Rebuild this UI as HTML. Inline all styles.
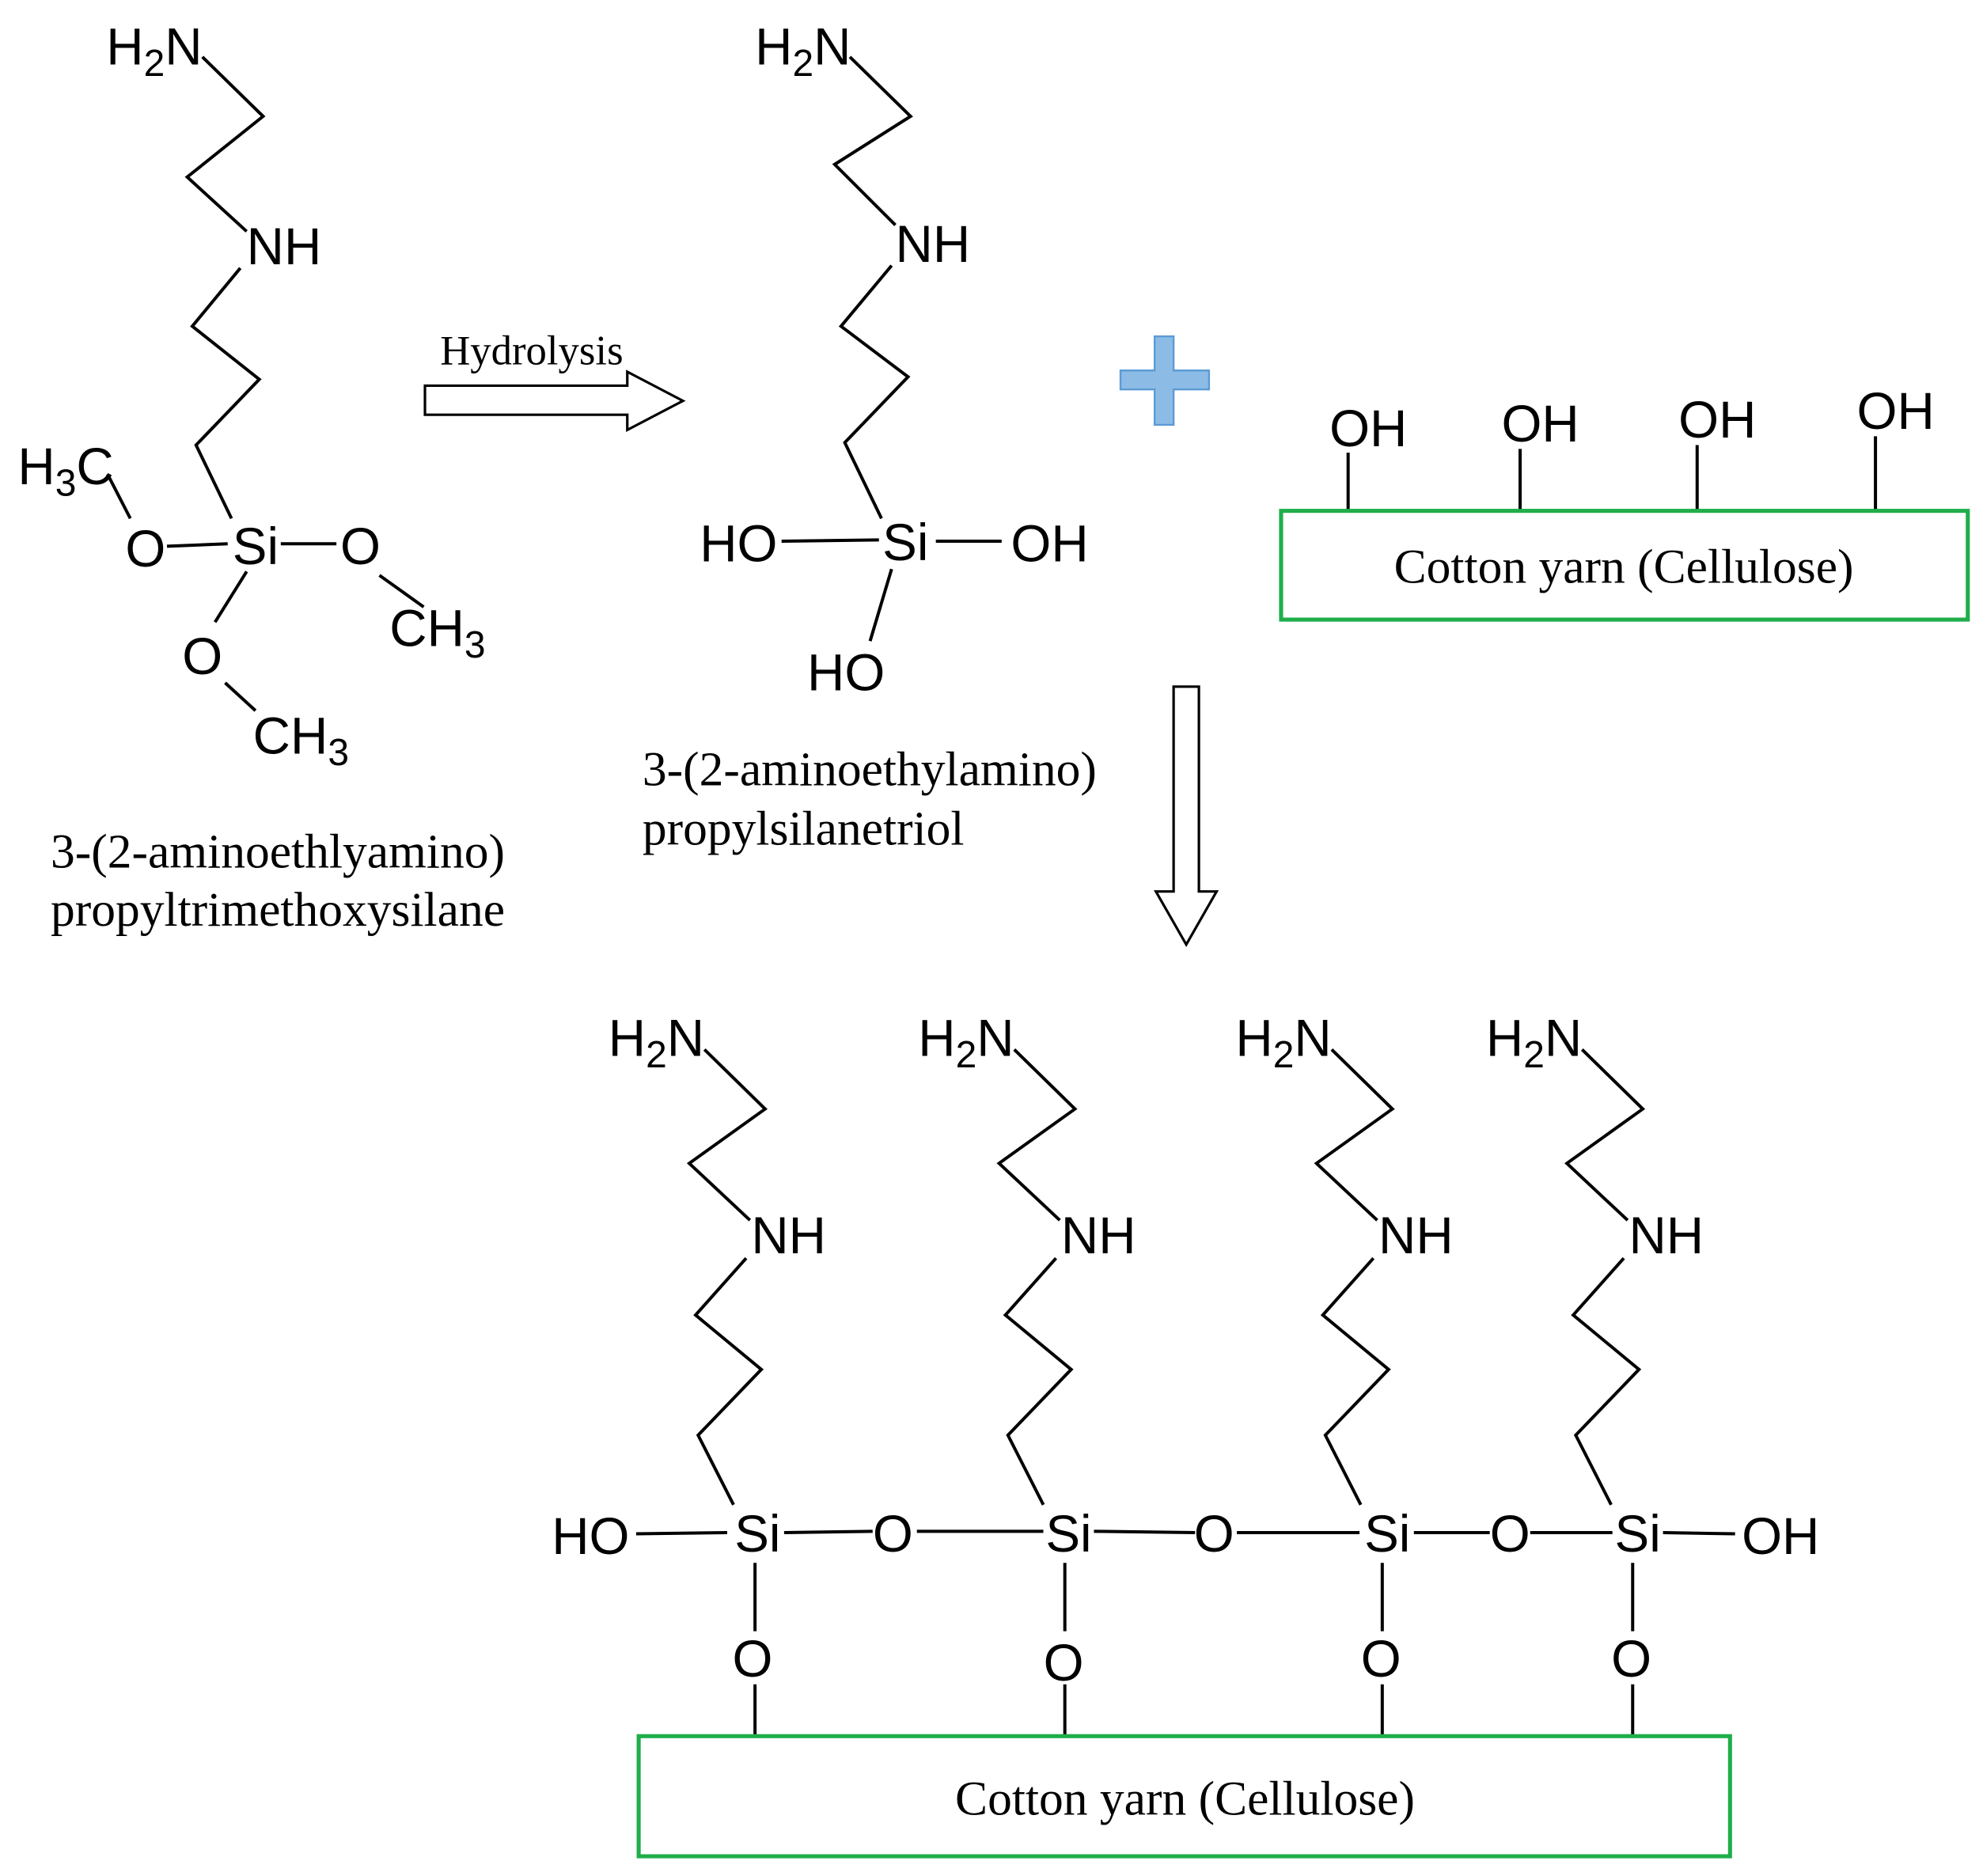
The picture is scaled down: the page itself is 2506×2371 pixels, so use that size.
<!DOCTYPE html>
<html><head><meta charset="utf-8"><style>html,body{margin:0;padding:0;background:#fff}svg{display:block}</style></head>
<body>
<svg width="2506" height="2371" viewBox="0 0 1568 1483.6" xmlns="http://www.w3.org/2000/svg">
<g font-family="Liberation Sans, Arial, sans-serif" font-size="41" fill="#000">
<!-- Left molecule -->
<g fill="none" stroke="#000" stroke-width="2.5">
<polyline points="160,45 208,92 148,140 195,183"/>
<polyline points="190,212 152,258 205,300 155,352 183,410"/>
<line x1="132" y1="432" x2="180" y2="430"/>
<line x1="85" y1="375" x2="103" y2="410"/>
<line x1="222" y1="430" x2="266" y2="430"/>
<line x1="300" y1="455" x2="335" y2="480"/>
<line x1="195" y1="452" x2="170" y2="492"/>
<line x1="178" y1="540" x2="202" y2="562"/>
</g>
<text x="84" y="51">H<tspan font-size="30" dy="9">2</tspan><tspan dy="-9">N</tspan></text>
<text x="195" y="209">NH</text>
<text x="14" y="383">H<tspan font-size="30" dy="9">3</tspan><tspan dy="-9">C</tspan></text>
<text x="115" y="448" text-anchor="middle">O</text>
<text x="202" y="446" text-anchor="middle">Si</text>
<text x="285" y="446" text-anchor="middle">O</text>
<text x="308" y="511">CH<tspan font-size="30" dy="9">3</tspan></text>
<text x="160" y="533" text-anchor="middle">O</text>
<text x="200" y="596">CH<tspan font-size="30" dy="9">3</tspan></text>

<!-- Middle molecule -->
<g fill="none" stroke="#000" stroke-width="2.5">
<polyline points="672,45 720,92 660,130 708,178"/>
<polyline points="705,210 665,258 718,298 668,350 697,410"/>
<line x1="618" y1="428" x2="695" y2="427"/>
<line x1="740" y1="428" x2="792" y2="428"/>
<line x1="705" y1="450" x2="688" y2="507"/>
</g>
<text x="597" y="51">H<tspan font-size="30" dy="9">2</tspan><tspan dy="-9">N</tspan></text>
<text x="708" y="207">NH</text>
<text x="584" y="444" text-anchor="middle">HO</text>
<text x="716" y="443" text-anchor="middle">Si</text>
<text x="830" y="444" text-anchor="middle">OH</text>
<text x="669" y="546" text-anchor="middle">HO</text>

<!-- top OH labels -->
<text x="1082" y="353" text-anchor="middle">OH</text>
<text x="1218" y="349" text-anchor="middle">OH</text>
<text x="1358" y="346" text-anchor="middle">OH</text>
<text x="1499" y="339" text-anchor="middle">OH</text>
<g stroke="#000" stroke-width="2.5">
<line x1="1066" y1="358" x2="1066" y2="404"/>
<line x1="1202" y1="355" x2="1202" y2="404"/>
<line x1="1342" y1="352" x2="1342" y2="404"/>
<line x1="1483" y1="345" x2="1483" y2="404"/>
</g>

<!-- bottom chains -->
<g fill="none" stroke="#000" stroke-width="2.5">
<g id="c1">
<polyline points="557,830 605,877 545,920 593,965"/>
<polyline points="590,995 550,1040 602,1083 552,1135 580,1190"/>
<line x1="597" y1="1236" x2="597" y2="1290"/>
<line x1="597" y1="1332" x2="597" y2="1373"/>
</g>
<use href="#c1" x="245"/>
<use href="#c1" x="496"/>
<use href="#c1" x="694"/>
<line x1="503" y1="1213" x2="575" y2="1212"/>
<line x1="620" y1="1212" x2="690" y2="1211"/>
<line x1="725" y1="1211" x2="825" y2="1211"/>
<line x1="865" y1="1211" x2="945" y2="1212"/>
<line x1="978" y1="1212" x2="1075" y2="1212"/>
<line x1="1118" y1="1212" x2="1178" y2="1212"/>
<line x1="1210" y1="1212" x2="1275" y2="1212"/>
<line x1="1315" y1="1212" x2="1372" y2="1213"/>
</g>
<text x="481" y="835">H<tspan font-size="30" dy="9">2</tspan><tspan dy="-9">N</tspan></text>
<text x="726" y="835">H<tspan font-size="30" dy="9">2</tspan><tspan dy="-9">N</tspan></text>
<text x="977" y="835">H<tspan font-size="30" dy="9">2</tspan><tspan dy="-9">N</tspan></text>
<text x="1175" y="835">H<tspan font-size="30" dy="9">2</tspan><tspan dy="-9">N</tspan></text>
<text x="594" y="991">NH</text>
<text x="839" y="991">NH</text>
<text x="1090" y="991">NH</text>
<text x="1288" y="991">NH</text>
<text x="467" y="1229" text-anchor="middle">HO</text>
<text x="599" y="1227" text-anchor="middle">Si</text>
<text x="706" y="1227" text-anchor="middle">O</text>
<text x="845" y="1227" text-anchor="middle">Si</text>
<text x="960" y="1227" text-anchor="middle">O</text>
<text x="1097" y="1227" text-anchor="middle">Si</text>
<text x="1194" y="1227" text-anchor="middle">O</text>
<text x="1295" y="1227" text-anchor="middle">Si</text>
<text x="1408" y="1229" text-anchor="middle">OH</text>
<text x="595" y="1326" text-anchor="middle">O</text>
<text x="841" y="1329" text-anchor="middle">O</text>
<text x="1092" y="1326" text-anchor="middle">O</text>
<text x="1290" y="1326" text-anchor="middle">O</text>
</g>

<!-- serif captions -->
<g font-family="Liberation Serif, Times New Roman, serif" font-size="38.5" fill="#000">
<text x="348" y="288" font-size="33">Hydrolysis</text>
<text x="508" y="621">3-(2-aminoethylamino)</text>
<text x="508" y="668">propylsilanetriol</text>
<text x="40" y="686">3-(2-aminoethlyamino)</text>
<text x="40" y="732">propyltrimethoxysilane</text>
<text x="1284" y="461" text-anchor="middle">Cotton yarn (Cellulose)</text>
<text x="937" y="1435" text-anchor="middle">Cotton yarn (Cellulose)</text>
</g>

<!-- arrows -->
<polygon points="336,305 496,305 496,294 540,317 496,340 496,328 336,328" fill="#fff" stroke="#000" stroke-width="2"/>
<polygon points="928,543 948,543 948,705 962,705 938,747 914,705 928,705" fill="#fff" stroke="#000" stroke-width="2"/>

<!-- plus -->
<path d="M913,266 H928 V293 H956 V308 H928 V336 H913 V308 H886 V293 H913 Z" fill="#8cbce6" stroke="#5b9bd5" stroke-width="1.5"/>

<!-- boxes -->
<rect x="1013" y="404" width="543" height="86" fill="none" stroke="#1fae4a" stroke-width="3.2"/>
<rect x="505" y="1373" width="863" height="95" fill="none" stroke="#1fae4a" stroke-width="3.2"/>
</svg>
</body></html>
